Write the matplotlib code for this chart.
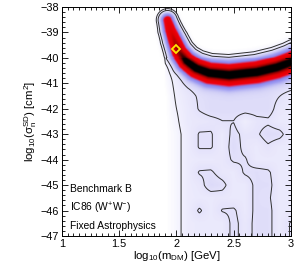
import numpy as np
import matplotlib.pyplot as plt
from matplotlib.colors import LinearSegmentedColormap

plt.rcParams['font.family'] = ['Liberation Sans', 'DejaVu Sans']
plt.rcParams['mathtext.fontset'] = 'custom'
plt.rcParams['mathtext.rm'] = 'Liberation Sans'
plt.rcParams['mathtext.it'] = 'Liberation Sans'

# ridge of the likelihood band
ridge_m = [1.922, 1.948, 1.983, 2.026, 2.087, 2.174, 2.287, 2.461, 2.704, 2.878, 3.0, 3.05]
ridge_s = [-38.51, -38.90, -39.30, -39.77, -40.12, -40.40, -40.59, -40.67, -40.55, -40.36, -40.16, -40.05]
ridge_w = [4.5, 5.0, 5.5, 6.0, 6.3, 6.8, 7.2, 7.5, 7.5, 7.5, 7.5, 7.5]
ridge_peak = [0.6, 0.7, 0.8, 0.9, 1.0, 1.0, 1.0, 1.0, 1.0, 1.0, 1.0, 1.0]

# diffuse plateau below the band, values in percent of the peak
plat_m = [1.9, 2.0, 2.1, 2.2, 2.3, 2.4, 2.5, 2.6, 2.7, 2.8, 2.9, 3.0]
plat_s = [-40.0, -40.5, -41.0, -41.5, -42.0, -42.5, -43.0, -43.5, -44.0,
          -44.5, -45.0, -45.5, -46.0, -46.5, -47.0]
plat = [
    [2.0, 3.0, 4.0, 4.0, 4.0, 4.0, 4.0, 4.0, 4.0, 4.0, 4.0, 4.0],
    [1.0, 4.0, 8.0, 8.0, 8.0, 8.0, 8.0, 8.0, 8.0, 8.0, 8.0, 8.0],
    [0.5, 3.5, 6.5, 8.0, 8.0, 8.0, 8.0, 8.0, 8.0, 8.0, 8.0, 8.0],
    [0.0, 3.0, 5.0, 7.0, 8.0, 8.0, 8.0, 8.0, 8.0, 8.0, 6.5, 5.0],
    [0.0, 2.5, 4.5, 6.8, 8.0, 8.0, 8.0, 8.0, 8.0, 8.0, 5.0, 4.5],
    [0.0, 2.0, 4.5, 5.0, 5.5, 6.4, 6.4, 3.5, 5.5, 5.9, 4.5, 4.5],
    [0.0, 1.5, 4.0, 6.8, 6.8, 4.5, 7.5, 5.5, 6.0, 8.0, 7.5, 4.5],
    [0.0, 1.5, 4.0, 6.8, 6.8, 4.5, 8.0, 5.5, 4.5, 6.0, 4.5, 4.5],
    [0.0, 1.5, 4.0, 4.5, 4.5, 5.0, 7.0, 6.8, 4.5, 4.5, 4.5, 4.5],
    [0.0, 1.5, 4.0, 6.8, 7.0, 5.0, 4.5, 7.0, 7.5, 7.0, 4.5, 4.5],
    [0.0, 1.5, 4.0, 5.0, 8.5, 7.5, 4.5, 4.5, 7.5, 7.5, 4.5, 4.5],
    [0.0, 1.5, 4.0, 4.5, 4.5, 5.0, 4.5, 4.5, 7.5, 7.0, 4.5, 4.5],
    [0.0, 1.5, 4.0, 7.0, 4.5, 6.7, 7.0, 4.5, 7.5, 7.5, 4.5, 4.5],
    [0.0, 1.5, 4.0, 4.5, 4.5, 4.5, 7.5, 5.0, 7.5, 7.5, 4.5, 6.8],
    [0.0, 1.5, 4.0, 4.5, 4.5, 4.5, 7.5, 5.0, 7.5, 7.5, 4.5, 6.8],
]

best_m, best_s = 2.0, -39.65
levels = [0.025, 0.065]

# ==========================
# build the field
# ==========================
M = np.linspace(1, 3, 400)
S = np.linspace(-47, -38, 400)
MM, SS = np.meshgrid(M, S)

# work in screen-like units so the band width is even
kx, ky = 115.0, 25.45
X, Y = (MM - 1) * kx, (SS + 38) * ky
px = (np.array(ridge_m) - 1) * kx
py = (np.array(ridge_s) + 38) * ky

band = np.zeros_like(MM)
for i in range(len(px) - 1):
    vx, vy = px[i + 1] - px[i], py[i + 1] - py[i]
    t = ((X - px[i]) * vx + (Y - py[i]) * vy) / (vx ** 2 + vy ** 2)
    t = np.clip(t, 0, 1)
    d = np.hypot(X - (px[i] + t * vx), Y - (py[i] + t * vy))
    w = ridge_w[i] + t * (ridge_w[i + 1] - ridge_w[i])
    a = ridge_peak[i] + t * (ridge_peak[i + 1] - ridge_peak[i])
    band = np.maximum(band, a * np.exp(-0.5 * (d / w) ** 2))

# plateau on the fine grid (bilinear)
P = np.array(plat)[::-1] / 100.0
ps = np.array(plat_s)[::-1]
rows = np.array([np.interp(M, plat_m, r, left=0, right=r[-1]) for r in P])
plateau = np.array([np.interp(S, ps, rows[:, j], left=rows[0, j], right=0)
                    for j in range(len(M))]).T

F = band + plateau

cmap = LinearSegmentedColormap.from_list("idl", [
    (0.0, "#ffffff"),
    (0.02, "#f3f2fe"),
    (0.06, "#e5e3fb"),
    (0.12, "#cfcdf6"),
    (0.22, "#a09ef2"),
    (0.32, "#8a86ee"),
    (0.40, "#c84078"),
    (0.47, "#f00010"),
    (0.72, "#e00000"),
    (0.88, "#900000"),
    (0.97, "#200000"),
    (1.0, "#000000"),
])

fig = plt.figure(figsize=(2.99, 2.68), dpi=100)
ax = fig.add_axes([62 / 299, 32 / 268, 229 / 299, 229 / 268])

ax.imshow(F, extent=[1, 3, -47, -38], origin="lower", aspect="auto",
          cmap=cmap, vmin=0, vmax=1, interpolation="bilinear")
ax.contour(MM, SS, F, levels=levels, colors="#303030", linewidths=0.7)

ax.plot(best_m, best_s, marker="D", markersize=4.5, markerfacecolor="none",
        markeredgecolor="#ffe600", markeredgewidth=1.3)

ax.text(1.07, -45.15, "Benchmark B", fontsize=7.4, va="center")
ax.text(1.07, -45.9, "IC86 (W$^{+}$W$^{-}$)", fontsize=7.4, va="center")
ax.text(1.07, -46.62, "Fixed Astrophysics", fontsize=7.4, va="center")

ax.set_xlim(1, 3)
ax.set_ylim(-47, -38)
ax.set_xticks([1, 1.5, 2, 2.5, 3])
ax.set_xticklabels(["1", "1.5", "2", "2.5", "3"])
ax.set_yticks(np.arange(-47, -37, 1))
ax.set_xticks(np.arange(1, 3.001, 0.05), minor=True)
ax.set_yticks(np.arange(-47, -37.99, 0.2), minor=True)
ax.tick_params(which="both", direction="in", top=True, right=True,
               labelsize=7.8, width=0.6, pad=2)
ax.tick_params(which="major", length=4)
ax.tick_params(which="minor", length=2)
for sp in ax.spines.values():
    sp.set_linewidth(0.7)

ax.set_xlabel("log$_{10}$(m$_{\\rm DM}$) [GeV]", fontsize=8.2, labelpad=0)
ax.set_ylabel("log$_{10}$(σ$^{\\rm SD}_{\\rm n}$) [cm$^{2}$]", fontsize=8.2, labelpad=1)

fig.savefig("out.png", dpi=100)
